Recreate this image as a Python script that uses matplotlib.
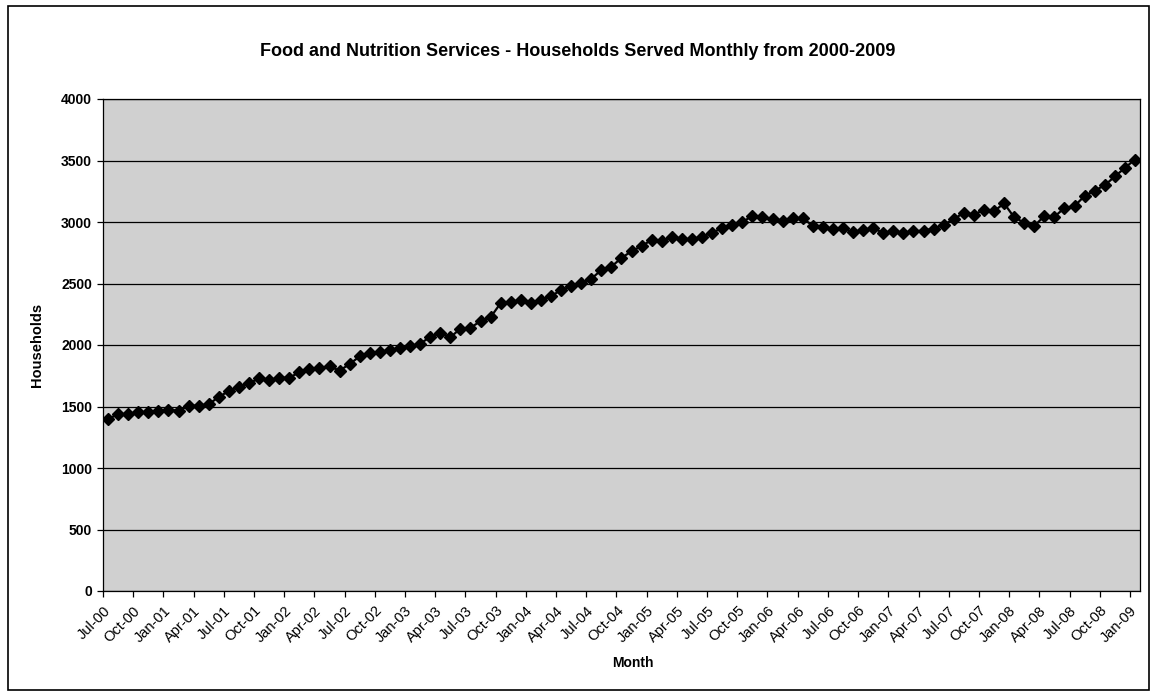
import matplotlib
matplotlib.use("Agg")
import matplotlib.pyplot as plt
from matplotlib.patches import Rectangle

plt.rcParams['font.family'] = ['Liberation Sans', 'DejaVu Sans']

# ---- data ----
households = [
    1395, 1440, 1437, 1452, 1455, 1465,            # Jul-00 .. Dec-00
    1473, 1466, 1505, 1508, 1518, 1578,            # 2001 H1
    1625, 1662, 1688, 1728, 1713, 1733,            # 2001 H2
    1735, 1777, 1805, 1815, 1826, 1792,            # 2002 H1
    1845, 1908, 1935, 1946, 1956, 1978,            # 2002 H2
    1990, 2011, 2065, 2100, 2062, 2134,            # 2003 H1
    2140, 2194, 2226, 2341, 2349, 2366,            # 2003 H2
    2339, 2366, 2398, 2446, 2478, 2505,            # 2004 H1
    2538, 2610, 2637, 2708, 2762, 2805,            # 2004 H2
    2854, 2848, 2875, 2859, 2859, 2881,            # 2005 H1
    2913, 2951, 2978, 3000, 3049, 3038,            # 2005 H2
    3027, 3011, 3030, 3030, 2970, 2957,            # 2006 H1
    2945, 2951, 2915, 2935, 2951, 2910,            # 2006 H2
    2924, 2908, 2924, 2930, 2946, 2978,            # 2007 H1
    3022, 3076, 3060, 3098, 3087, 3152,            # 2007 H2
    3038, 2995, 2967, 3049, 3043, 3114,            # 2008 H1
    3130, 3212, 3255, 3299, 3370, 3440,            # 2008 H2
    3508,                                          # Jan-09
]

tick_labels = [
    "Jul-00", "Oct-00", "Jan-01", "Apr-01", "Jul-01", "Oct-01", "Jan-02",
    "Apr-02", "Jul-02", "Oct-02", "Jan-03", "Apr-03", "Jul-03", "Oct-03",
    "Jan-04", "Apr-04", "Jul-04", "Oct-04", "Jan-05", "Apr-05", "Jul-05",
    "Oct-05", "Jan-06", "Apr-06", "Jul-06", "Oct-06", "Jan-07", "Apr-07",
    "Jul-07", "Oct-07", "Jan-08", "Apr-08", "Jul-08", "Oct-08", "Jan-09",
]
y_ticks = [0, 500, 1000, 1500, 2000, 2500, 3000, 3500, 4000]

# ---- figure ----
W, H = 1154, 694
fig = plt.figure(figsize=(W / 100, H / 100), dpi=100)
fig.patch.set_facecolor("white")

# outer frame
fig.add_artist(Rectangle((8 / W, 4 / H), (1149 - 8) / W, (688 - 4) / H,
                         transform=fig.transFigure, fill=False,
                         edgecolor="black", linewidth=1.2))

ax_left, ax_right = 103, 1140
ax_top, ax_bottom = 99, 591
aw, ah = ax_right - ax_left, ax_bottom - ax_top
ax = fig.add_axes([ax_left / W, 1 - ax_bottom / H, aw / W, ah / H])
ax.set_facecolor("#d0d0d0")

x = list(range(len(households)))
ax.plot(x, households, color="black", linewidth=1.6, marker="D",
        markersize=6.5, markerfacecolor="black", markeredgecolor="black",
        zorder=3)

ax.set_xlim(-0.5, len(households) - 0.5)
ax.set_ylim(0, 4000)

ax.set_yticks(y_ticks)
ax.set_yticklabels([str(v) for v in y_ticks], fontsize=10, fontweight="bold")
ax.yaxis.grid(True, color="black", linewidth=0.9)
ax.set_axisbelow(True)

tick_pos = [i * 3 - 0.5 for i in range(len(tick_labels))]
ax.set_xticks(tick_pos)
ax.set_xticklabels(tick_labels, rotation=45, ha="right",
                   rotation_mode="anchor", fontsize=10.5)
ax.tick_params(axis="x", direction="out", length=4, width=0.9, pad=5)
ax.tick_params(axis="y", direction="out", length=4, width=0.9, pad=4)

for s in ax.spines.values():
    s.set_color("black")
    s.set_linewidth(0.9)

ax.set_ylabel("Households", fontsize=10.5, fontweight="bold")
ax.set_xlabel("Month", fontsize=10, fontweight="bold")
ax.xaxis.set_label_coords((633 - ax_left) / aw, -(656 - ax_bottom) / ah)
ax.yaxis.set_label_coords(-(ax_left - 44) / aw, 0.5)

fig.text(578 / W, 1 - 52 / H,
         "Food and Nutrition Services - Households Served Monthly from 2000-2009",
         ha="center", va="center", fontsize=13, fontweight="bold")

fig.savefig("out.png", dpi=100)
